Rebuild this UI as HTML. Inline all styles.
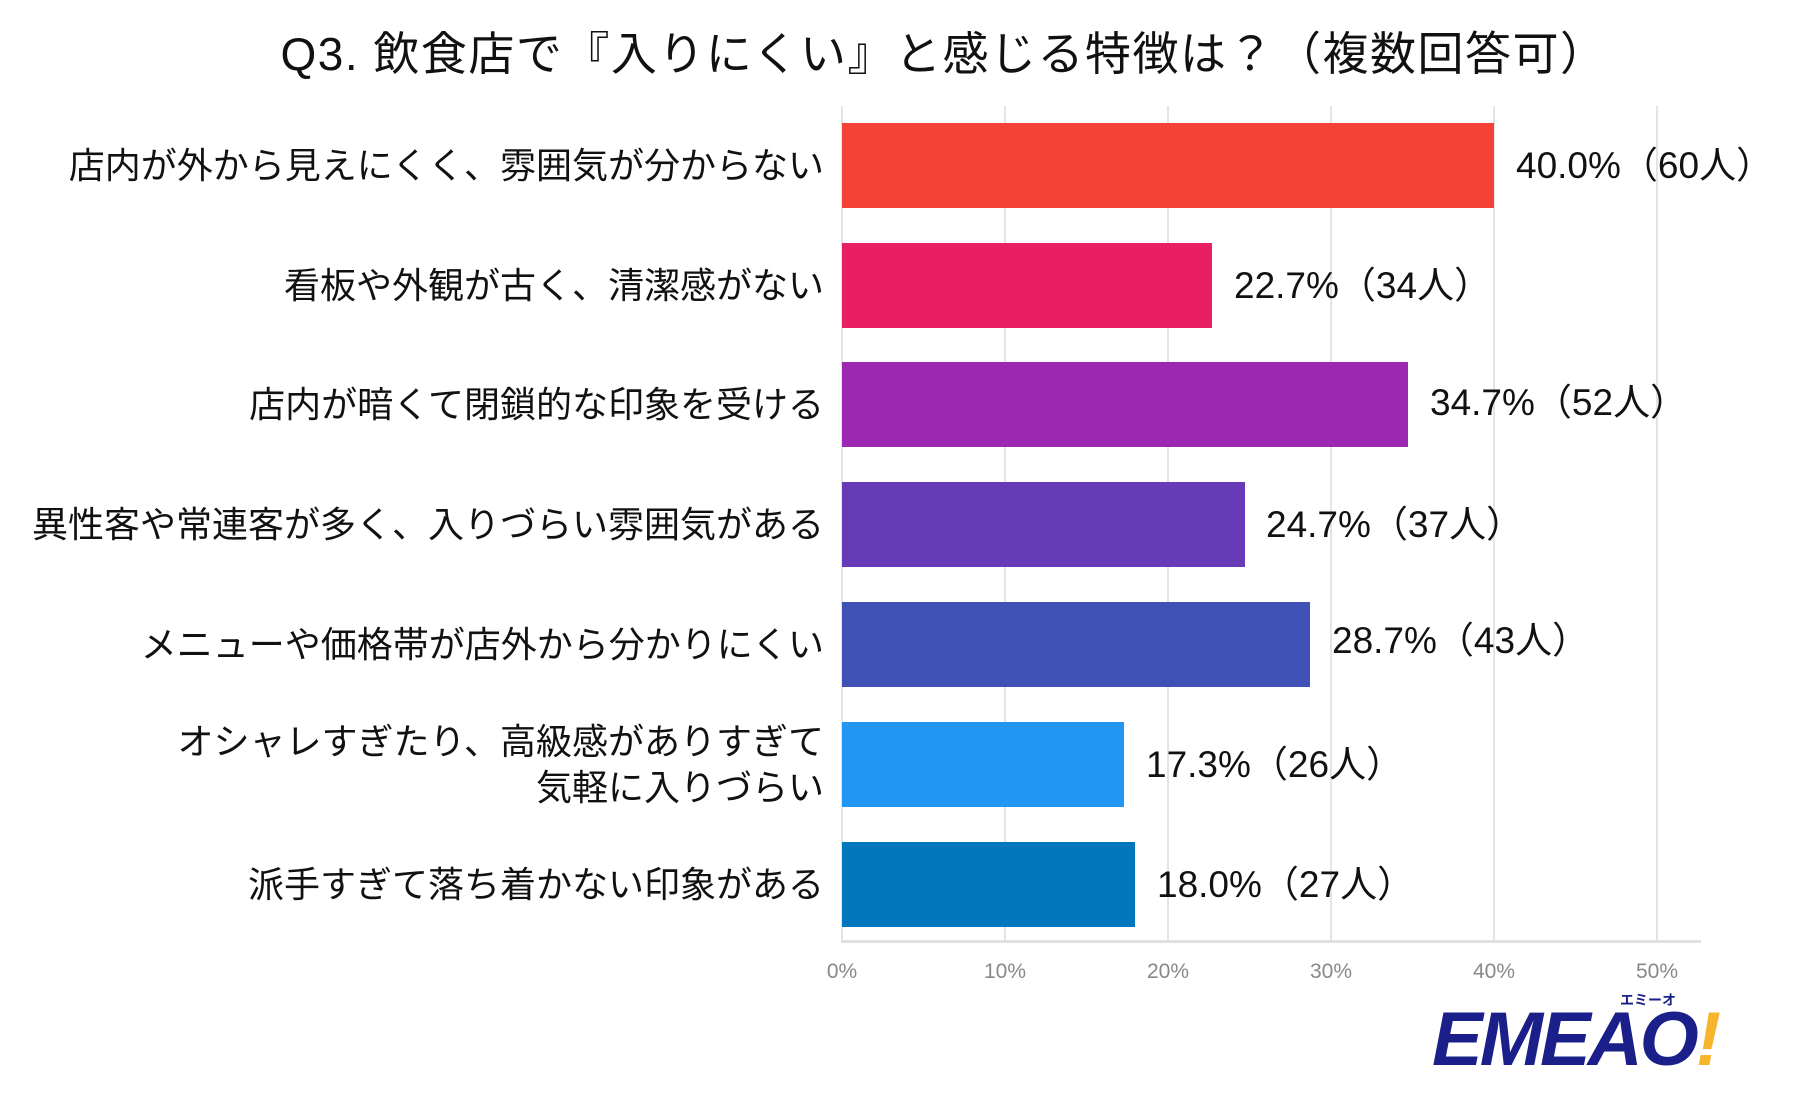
<!DOCTYPE html>
<html><head><meta charset="utf-8"><style>
body{margin:0;width:1804px;height:1100px;background:#fff;overflow:hidden;position:relative;font-family:"Liberation Sans","Noto Sans CJK JP",sans-serif}
.t{position:absolute;left:42px;width:1804px;text-align:center;top:18px;font-size:46px;color:#111;letter-spacing:1.5px;white-space:nowrap}
.g{position:absolute;top:106px;height:835px;width:2px;background:#e4e4e4}
.ax{position:absolute;left:841px;top:940px;width:860px;height:3px;background:#e0e0e0}
.tk{position:absolute;top:960px;font-size:21px;color:#888;width:80px;margin-left:-40px;text-align:center}
.bar{position:absolute;left:842px;height:85px}
.lb{position:absolute;right:980px;font-size:36px;color:#111;text-align:right;line-height:46px;white-space:nowrap}
.v{position:absolute;font-size:37px;color:#111;line-height:46px;white-space:nowrap}
</style></head><body>
<div class="t">Q3. 飲食店で『入りにくい』と感じる特徴は？（複数回答可）</div>
<div class="g" style="left:841px"></div><div class="g" style="left:1004px"></div><div class="g" style="left:1167px"></div><div class="g" style="left:1330px"></div><div class="g" style="left:1493px"></div><div class="g" style="left:1656px"></div>
<div class="ax"></div>
<div class="tk" style="left:842px">0%</div><div class="tk" style="left:1005px">10%</div><div class="tk" style="left:1168px">20%</div><div class="tk" style="left:1331px">30%</div><div class="tk" style="left:1494px">40%</div><div class="tk" style="left:1657px">50%</div>

<div class="bar" style="top:123px;width:652px;background:#f44336"></div>
<div class="bar" style="top:243px;width:370px;background:#e91e63"></div>
<div class="bar" style="top:362px;width:566px;background:#9c27b0"></div>
<div class="bar" style="top:482px;width:403px;background:#673ab7"></div>
<div class="bar" style="top:602px;width:468px;background:#3f51b5"></div>
<div class="bar" style="top:722px;width:282px;background:#2196f3"></div>
<div class="bar" style="top:842px;width:293px;background:#0277bd"></div>

<div class="lb" style="top:143px">店内が外から見えにくく、雰囲気が分からない</div>
<div class="lb" style="top:263px">看板や外観が古く、清潔感がない</div>
<div class="lb" style="top:382px">店内が暗くて閉鎖的な印象を受ける</div>
<div class="lb" style="top:502px">異性客や常連客が多く、入りづらい雰囲気がある</div>
<div class="lb" style="top:622px">メニューや価格帯が店外から分かりにくい</div>
<div class="lb" style="top:719px">オシャレすぎたり、高級感がありすぎて<br>気軽に入りづらい</div>
<div class="lb" style="top:862px">派手すぎて落ち着かない印象がある</div>

<div class="v" style="top:143px;left:1516px">40.0%（60人）</div>
<div class="v" style="top:263px;left:1234px">22.7%（34人）</div>
<div class="v" style="top:380px;left:1430px">34.7%（52人）</div>
<div class="v" style="top:502px;left:1266px">24.7%（37人）</div>
<div class="v" style="top:618px;left:1332px">28.7%（43人）</div>
<div class="v" style="top:742px;left:1146px">17.3%（26人）</div>
<div class="v" style="top:862px;left:1157px">18.0%（27人）</div>

<div style="position:absolute;left:1432px;top:1000px;font-size:76px;font-weight:bold;font-style:italic;color:#1a1f8a;letter-spacing:-3px;line-height:80px">EMEAO<span style="color:#f7b52c">!</span></div>
<div style="position:absolute;left:1620px;top:990px;font-size:14px;font-weight:bold;color:#1a1f8a">エミーオ</div>
</body></html>
